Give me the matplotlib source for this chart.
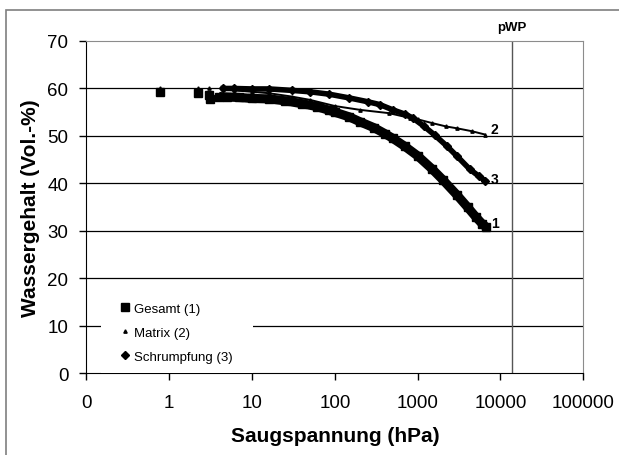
import numpy as np
import matplotlib
matplotlib.use("Agg")
import matplotlib.pyplot as plt
from matplotlib.patches import Rectangle

plt.rcParams['font.family'] = ['Liberation Sans', 'DejaVu Sans']

# Saugspannung (hPa) / Wassergehalt (Vol.-%)
gesamt_x = [0.77, 2.2, 3.05, 3.1, 4.0, 5, 7, 10, 16, 25, 40, 60, 85, 100, 150,
            200, 300, 400, 500, 700, 1000, 1500, 2000, 3000, 4000, 5000, 6000, 6600]
gesamt_y = [59.3, 59.0, 58.7, 57.8, 58.3, 58.2, 58.1, 57.9, 57.8, 57.4, 56.8, 56.2,
            55.4, 55.0, 54.0, 53.0, 51.7, 50.5, 49.5, 47.8, 45.8, 43.0, 40.8, 37.5,
            35.0, 33.0, 31.5, 30.9]

matrix_x = [0.77, 2.2, 3.05, 4.5, 6, 10, 16, 30, 50, 100, 200, 450, 800, 1000,
            1500, 2200, 3000, 4500, 6500]
matrix_y = [60.0, 60.0, 60.0, 59.8, 59.6, 59.3, 59.0, 58.3, 57.6, 56.3, 55.5, 54.8,
            53.8, 53.5, 52.7, 52.0, 51.6, 51.0, 50.3]

schrumpf_x = [4.5, 6, 10, 16, 30, 50, 85, 150, 250, 350, 500, 700, 870, 1200, 1600,
              2240, 3000, 4250, 5500, 6500]
schrumpf_y = [60.0, 60.0, 59.9, 59.9, 59.6, 59.3, 58.8, 58.0, 57.2, 56.6, 55.5, 54.6,
              53.8, 52.0, 50.2, 47.9, 45.7, 43.0, 41.5, 40.6]

pwp = 13600
xticks = [0.1, 1, 10, 100, 1000, 10000, 100000]
xlabels = ['0', '1', '10', '100', '1000', '10000', '100000']
yticks = [0, 10, 20, 30, 40, 50, 60, 70]

fig = plt.figure(figsize=(6.19, 4.56), dpi=100)
ax = fig.add_axes([0.1397, 0.1792, 0.8026, 0.7287])

# frame around the whole chart
fig.patches.append(Rectangle((6 / 619, -0.2), 1.2, 1.2 - 11 / 456 + 0.001,
                             transform=fig.transFigure, fill=False,
                             edgecolor='#7f7f7f', lw=1.2, zorder=0))

for y in yticks[1:-1]:
    ax.axhline(y, color='black', lw=0.9, zorder=1)
ax.axvline(pwp, color='#555555', lw=1.0, zorder=1)

# dense measurement points appear as solid bands
gx, gy = np.array(gesamt_x), np.array(gesamt_y)
mx, my = np.array(matrix_x), np.array(matrix_y)
band1 = gx >= 4
band2 = mx >= 4
ax.plot(gx[band1], gy[band1], color='black', lw=6.6, solid_capstyle='butt', zorder=2)
ax.plot(gx, gy, ls='none', marker='s', ms=6.3, color='black', zorder=2,
        label='Gesamt (1)')
ax.plot(mx[band2], my[band2], color='black', lw=1.4, zorder=3)
ax.plot(mx, my, ls='none', marker='^', ms=2.4, color='black', zorder=3,
        label='Matrix (2)')
ax.plot(schrumpf_x, schrumpf_y, color='black', lw=4.0, zorder=4)
ax.plot(schrumpf_x, schrumpf_y, ls='none', marker='D', ms=3.8, color='black', zorder=4,
        label='Schrumpfung (3)')

ax.text(gesamt_x[-1] * 1.3, gesamt_y[-1] + 0.7, '1', fontsize=10, fontweight='bold',
        ha='center', va='center')
ax.text(matrix_x[-1] * 1.3, matrix_y[-1] + 1.1, '2', fontsize=10, fontweight='bold',
        ha='center', va='center')
ax.text(schrumpf_x[-1] * 1.3, schrumpf_y[-1] + 0.4, '3', fontsize=10, fontweight='bold',
        ha='center', va='center')
ax.text(pwp, 73.0, 'pWP', fontsize=9.5, fontweight='bold', ha='center', va='center',
        clip_on=False)

ax.set_xscale('log')
ax.set_xlim(0.1, 100000)
ax.set_ylim(0, 70)
ax.set_xticks(xticks)
ax.set_xticklabels(xlabels)
ax.xaxis.set_minor_locator(matplotlib.ticker.NullLocator())
ax.set_yticks(yticks)
ax.tick_params(axis='both', direction='out', length=5, width=1, labelsize=13.5,
               color='black')
ax.tick_params(axis='x', pad=10)
ax.tick_params(axis='y', pad=8)

for side in ['top', 'right']:
    ax.spines[side].set_color('#8c8c8c')
for side in ['left', 'bottom']:
    ax.spines[side].set_color('black')

ax.set_xlabel('Saugspannung (hPa)', fontsize=15, fontweight='bold', labelpad=11)
ax.set_ylabel('Wassergehalt (Vol.-%)', fontsize=15, fontweight='bold', labelpad=5)

leg = ax.legend(loc='lower left', bbox_to_anchor=(0.029, 0.0, 0.306, 0.25),
                mode='expand', fontsize=9.5, frameon=True, fancybox=False,
                framealpha=1, edgecolor='none', handlelength=2.0,
                handletextpad=-0.3, labelspacing=0.88, borderpad=0.8,
                borderaxespad=0)
leg.set_zorder(5)

fig.savefig('out.png', dpi=100)
